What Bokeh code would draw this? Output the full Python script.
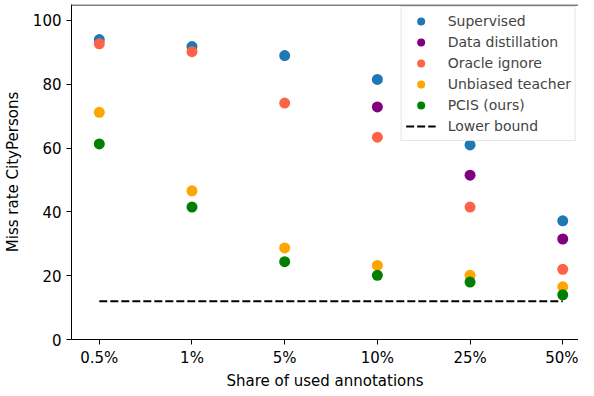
from bokeh.plotting import figure
from bokeh.models import Range1d, FixedTicker, Span, Legend, LegendItem
from bokeh.embed import file_html
from bokeh.resources import INLINE

categories = ["0.5%", "1%", "5%", "10%", "25%", "50%"]
supervised = [94.0, 91.8, 89.0, 81.5, 61.0, 37.2]
distill_x = [3, 4, 5]
data_distillation = [72.9, 51.5, 31.5]
oracle_ignore = [92.7, 90.2, 74.1, 63.4, 41.5, 22.0]
unbiased_teacher = [71.2, 46.6, 28.7, 23.2, 20.1, 16.5]
pcis = [61.3, 41.5, 24.4, 20.1, 18.0, 14.0]
lower_bound = 12.0

xs = list(range(len(categories)))

p = figure(width=578, height=392, output_backend="svg", toolbar_location=None,
           x_range=Range1d(-0.30, 5.17), y_range=Range1d(0, 105),
           min_border_left=62, min_border_right=0, min_border_top=4, min_border_bottom=0)
p.outline_line_color = None
p.xgrid.visible = False
p.ygrid.visible = False

font = "DejaVu Sans"
for ax in (p.xaxis[0], p.yaxis[0]):
    ax.axis_line_color = "black"
    ax.axis_line_width = 1
    ax.major_tick_in = 0
    ax.major_tick_out = 5
    ax.minor_tick_line_color = None
    ax.major_label_text_font = font
    ax.major_label_text_font_size = "15px"
    ax.major_label_text_color = "black"
    ax.axis_label_text_font = font
    ax.axis_label_text_font_size = "15px"
    ax.axis_label_text_font_style = "normal"
    ax.axis_label_text_color = "black"

p.xaxis.ticker = FixedTicker(ticks=xs)
p.xaxis.major_label_overrides = {i: c for i, c in enumerate(categories)}
p.xaxis.axis_label = "Share of used annotations"
p.xaxis.axis_label_standoff = 2
p.xaxis.major_label_standoff = 4
p.yaxis.ticker = FixedTicker(ticks=[0, 20, 40, 60, 80, 100])
p.yaxis.axis_label = "Miss rate CityPersons"
p.yaxis.axis_label_standoff = 8

top = Span(location=104.85, dimension="width", line_color="#555555", line_width=1.5)
p.add_layout(top)

size = 11
r1 = p.scatter(xs, supervised, size=size, color="#1f77b4", line_color=None)
r2 = p.scatter(distill_x, data_distillation, size=size, color="#800080", line_color=None)
r3 = p.scatter(xs, oracle_ignore, size=size, color="#ff6347", line_color=None)
r4 = p.scatter(xs, unbiased_teacher, size=size, color="#ffa500", line_color=None)
r5 = p.scatter(xs, pcis, size=size, color="#008000", line_color=None)
r6 = p.line([xs[0], xs[-1]], [lower_bound, lower_bound], line_color="black",
            line_width=2, line_dash="8 3")

legend = Legend(items=[
    LegendItem(label="Supervised", renderers=[r1]),
    LegendItem(label="Data distillation", renderers=[r2]),
    LegendItem(label="Oracle ignore", renderers=[r3]),
    LegendItem(label="Unbiased teacher", renderers=[r4]),
    LegendItem(label="PCIS (ours)", renderers=[r5]),
    LegendItem(label="Lower bound", renderers=[r6]),
], location="top_right")
legend.label_text_font = font
legend.label_text_font_size = "14px"
legend.label_height = 20
legend.glyph_height = 20
legend.glyph_width = 30
legend.spacing = 1
legend.padding = 4
legend.margin = 2
legend.label_standoff = 12
legend.border_line_color = "#cccccc"
legend.border_line_width = 1
legend.background_fill_alpha = 0.8
p.add_layout(legend)

open("out.html", "w").write(file_html(p, INLINE))
